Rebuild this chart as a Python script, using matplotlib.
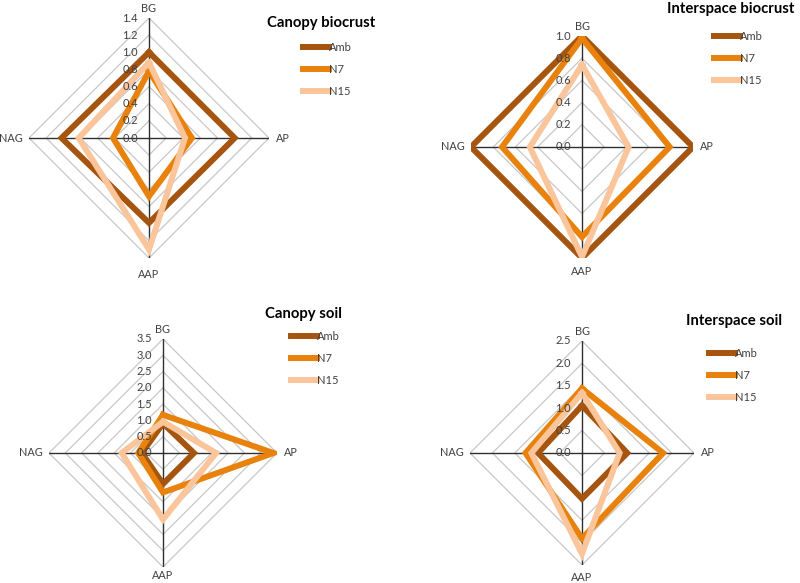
import numpy as np
import matplotlib.pyplot as plt

plt.rcParams['font.family'] = ['Lato', 'DejaVu Sans']

W, H = 800, 583

# spokes: BG (up), AP (right), AAP (down), NAG (left)
categories = ["BG", "AP", "AAP", "NAG"]
series = ["Amb", "N7", "N15"]
colors = ["#A5550F", "#E8820C", "#FAC59A"]

titles = ["Canopy biocrust", "Interspace biocrust", "Canopy soil", "Interspace soil"]

# values per panel, per series, in order BG, AP, AAP, NAG
canopy_biocrust = [
    [1.00, 1.00, 0.99, 1.02],
    [0.78, 0.50, 0.68, 0.42],
    [0.88, 0.42, 1.30, 0.82],
]
interspace_biocrust = [
    [1.00, 1.00, 1.00, 1.00],
    [0.98, 0.79, 0.81, 0.72],
    [0.74, 0.42, 0.99, 0.47],
]
canopy_soil = [
    [0.91, 0.95, 0.95, 0.65],
    [1.17, 3.39, 1.21, 0.76],
    [0.96, 1.63, 2.04, 1.27],
]
interspace_soil = [
    [1.06, 1.01, 1.02, 0.98],
    [1.44, 1.81, 1.91, 1.26],
    [1.34, 0.84, 2.25, 1.13],
]
panel_values = [canopy_biocrust, interspace_biocrust, canopy_soil, interspace_soil]

tick_max = [1.4, 1.0, 3.5, 2.5]
tick_step = [0.2, 0.2, 0.5, 0.5]

# layout in pixels: (center x, center y from top, radius)
centers = [(149, 138, 120), (582, 147, 111), (163, 453, 114), (582, 453, 112)]
aap_gap = [11, 8, 3, 7]
title_pos = [(267, 23), (667, 9), (265, 314), (686, 321)]
legend_pos = [(297, 36), (708, 25), (285, 325), (703, 342)]

angles = np.array([0, 90, 180, 270]) * np.pi / 180
text_color = "#404040"


def to_xy(vals):
    vals = np.asarray(vals, dtype=float)
    x = vals * np.sin(angles)
    y = vals * np.cos(angles)
    return np.append(x, x[0]), np.append(y, y[0])


fig = plt.figure(figsize=(W / 100, H / 100), dpi=100)

for i in range(4):
    cx, cy, R = centers[i]
    rmax = tick_max[i]
    ax = fig.add_axes([(cx - R) / W, (H - cy - R) / H, 2 * R / W, 2 * R / H])
    ax.set_xlim(-rmax, rmax)
    ax.set_ylim(-rmax, rmax)
    ax.axis("off")
    px = rmax / R  # data units per pixel

    ticks = np.arange(0, rmax + 1e-9, tick_step[i])
    for t in ticks[1:]:
        gx, gy = to_xy([t] * 4)
        ax.plot(gx, gy, color="#C8C8C8", lw=0.9, zorder=1)
    for a in angles:
        ax.plot([0, rmax * np.sin(a)], [0, rmax * np.cos(a)], color="#303030", lw=1.0, zorder=2)

    for vals, name, col in zip(panel_values[i], series, colors):
        sx, sy = to_xy(vals)
        ax.plot(sx, sy, color=col, lw=4.3, solid_joinstyle="miter", label=name, zorder=3)

    for t in ticks:
        ax.text(-11 * px, t, f"{t:.1f}", ha="right", va="center", fontsize=8,
                color=text_color, zorder=5)

    ax.text(0, rmax + 4 * px, categories[0], ha="center", va="bottom", fontsize=7.8, color=text_color)
    ax.text(rmax + 7 * px, 0, categories[1], ha="left", va="center", fontsize=7.8, color=text_color)
    ax.text(0, -rmax - aap_gap[i] * px, categories[2], ha="center", va="top", fontsize=7.8,
            color=text_color)
    ax.text(-rmax - 6 * px, 0, categories[3], ha="right", va="center", fontsize=7.8, color=text_color)

    tx, ty = title_pos[i]
    fig.text(tx / W, 1 - ty / H, titles[i], ha="left", va="center", fontsize=10.7,
             fontweight="bold", color="black")

    lx, ly = legend_pos[i]
    ax.legend(loc="upper left", bbox_to_anchor=(lx / W, 1 - ly / H), bbox_transform=fig.transFigure,
              frameon=False, borderpad=0, handlelength=2.4, handletextpad=0.0,
              labelspacing=1.0, fontsize=8, labelcolor=text_color)

fig.savefig("out.png", dpi=100)
